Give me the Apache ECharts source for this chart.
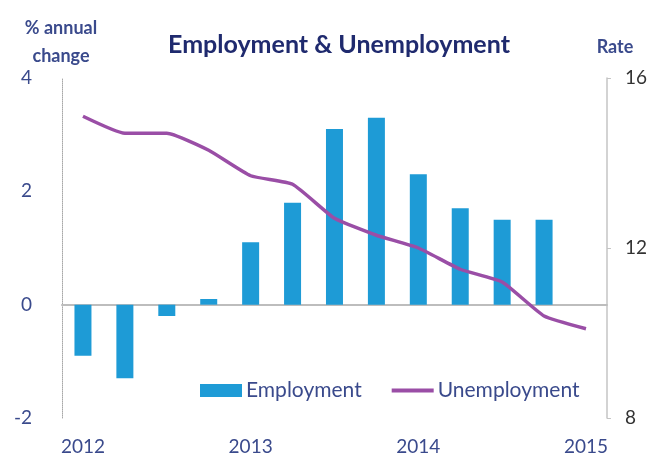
<!DOCTYPE html>
<html>
<head>
<meta charset="utf-8">
<script src="https://cdn.jsdelivr.net/npm/echarts@6/dist/echarts.min.js"></script>
<style>
html,body{margin:0;padding:0;background:#fff;}
#chart{width:650px;height:461px;}
</style>
</head>
<body>
<div id="chart"></div>
<script>
var categories = ['2012','','','','2013','','','','2014','','','','2015'];
var employment = [-0.9, -1.3, -0.2, 0.1, 1.1, 1.8, 3.1, 3.3, 2.3, 1.7, 1.5, 1.5, null];
var unemployment = [15.1, 14.7, 14.7, 14.3, 13.7, 13.5, 12.7, 12.3, 12.0, 11.5, 11.2, 10.4, 10.1];
var leftTicks = [-2, 0, 2, 4];
var rightTicks = [8, 12, 16];

var navy = '#3a4a8c';
var FONT = 'Lato';
var chart = echarts.init(document.getElementById('chart'));
chart.setOption({
  animation: false,
  textStyle: {fontFamily: FONT},
  title: [
    {text: 'Employment & Unemployment', left: 334, top: 27, textAlign: 'center',
     textStyle: {fontFamily: FONT, fontSize: 25, fontWeight: 'bold', color: '#1f2a6e'}},
    {text: '% annual\nchange', left: 56, top: 9, textAlign: 'center',
     textStyle: {fontFamily: FONT, fontSize: 18, fontWeight: 'bold', color: navy, lineHeight: 28}},
    {text: 'Rate', left: 610, top: 33, textAlign: 'center',
     textStyle: {fontFamily: FONT, fontSize: 18, fontWeight: 'bold', color: navy}}
  ],
  legend: {
    left: 195, top: 375,
    itemWidth: 42, itemHeight: 13, itemGap: 30,
    textStyle: {fontFamily: FONT, fontSize: 21, color: navy, padding: [0,0,0,-1]},
    data: [
      {name: 'Employment', icon: 'rect'},
      {name: 'Unemployment', icon: 'path://M0,0 L44,0 L44,4 L0,4 Z'}
    ]
  },
  grid: {left: 62, right: 42, top: 78, bottom: 43, containLabel: false},
  xAxis: [
    {type: 'category', data: categories, boundaryGap: true,
     axisLine: {show: false}, axisTick: {show: false},
     axisLabel: {interval: 0, fontSize: 19, color: navy, margin: 19, fontFamily: FONT}},
    {type: 'category', data: categories, boundaryGap: true, position: 'bottom',
     axisLine: {show: true, onZero: true, onZeroAxisIndex: 0, lineStyle: {color: '#bdbdbd', width: 2}},
     axisTick: {show: false}, axisLabel: {show: false}}
  ],
  yAxis: [
    {type: 'value', min: -2, max: 4, interval: 2, position: 'left',
     axisLine: {show: true, lineStyle: {color: '#a8a8a8', type: 'dotted', width: 1}},
     axisTick: {show: false}, splitLine: {show: false},
     axisLabel: {fontSize: 19, color: navy, margin: 30, fontFamily: FONT}},
    {type: 'value', min: 8, max: 16, interval: 4, position: 'right',
     axisLine: {show: true, lineStyle: {color: '#c4c4c4', width: 1.5}},
     axisTick: {show: true, length: 4, inside: false, lineStyle: {color: '#c4c4c4'}},
     splitLine: {show: false},
     axisLabel: {fontSize: 19, color: '#333', margin: 18, fontFamily: FONT}}
  ],
  series: [
    {name: 'Employment', type: 'bar', xAxisIndex: 0, yAxisIndex: 0, data: employment,
     barWidth: 17, itemStyle: {color: '#1e9bd6'}},
    {name: 'Unemployment', type: 'line', xAxisIndex: 0, yAxisIndex: 1, data: unemployment,
     symbol: 'none', smooth: 0.15, lineStyle: {color: '#9a4ea6', width: 3.5},
     itemStyle: {color: '#9a4ea6'}}
  ]
});
</script>
</body>
</html>
